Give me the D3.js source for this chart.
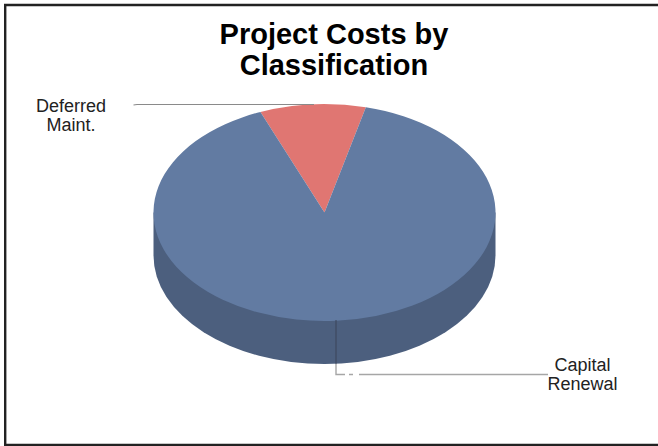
<!DOCTYPE html>
<html>
<head>
<meta charset="utf-8">
<script src="https://cdnjs.cloudflare.com/ajax/libs/d3/7.8.5/d3.min.js"></script>
<style>
html,body{margin:0;padding:0;background:#fff;overflow:hidden}
svg{display:block}
text{font-family:"Liberation Sans",Arial,sans-serif}
</style>
</head>
<body>
<svg id="c" width="658" height="446"></svg>
<script>
const categories = ["Deferred Maint.", "Capital Renewal"];
const values = [10, 90];
const sliceColors = ["#e07672", "#627ba2"];
const sideColor = "#4c5f7e";
const titleLines = ["Project Costs by", "Classification"];
const labelLines = [["Deferred", "Maint."], ["Capital", "Renewal"]];

const svg = d3.select("#c");
const W = 658, H = 446;
const cx = 324.5, cy = 212.5, rx = 171, ry = 108.5, depth = 43;

// chart frame (open on the right, as cropped in the reference)
svg.append("path")
  .attr("d", `M${W},5 H5.2 V445 H${W}`)
  .attr("fill", "none").attr("stroke", "#222").attr("stroke-width", 2.4);

// title
svg.append("g").selectAll("text").data(titleLines).join("text")
  .attr("x", 334).attr("y", (d, i) => 44 + i * 31)
  .attr("text-anchor", "middle")
  .attr("font-size", 29).attr("font-weight", "bold").attr("fill", "#000")
  .text(d => d);

// 3D side wall
const sx = d3.scaleLinear().domain([-1, 1]).range([cx - rx, cx + rx]);
const sy = d3.scaleLinear().domain([-1, 1]).range([cy - ry, cy + ry]);
svg.append("path")
  .attr("d", `M${sx(-1)},${sy(0)} v${depth} A${rx},${ry} 0 0 0 ${sx(1)},${sy(0)+depth} V${sy(0)} Z`)
  .attr("fill", sideColor);

// top face
const startDeg = -22;
const pie = d3.pie().sort(null).value(d => d)
  .startAngle(startDeg * Math.PI / 180)
  .endAngle((startDeg + 360) * Math.PI / 180);
const arc = d3.arc().innerRadius(0).outerRadius(rx);
svg.append("g")
  .attr("transform", `translate(${cx},${cy}) scale(1,${ry / rx})`)
  .selectAll("path").data(pie(values)).join("path")
  .attr("d", arc)
  .attr("fill", (d, i) => sliceColors[i]);

// leader lines
svg.append("path")
  .attr("d", "M133.5,105 L137,104.5 H314")
  .attr("fill", "none").attr("stroke", "#8a8a8a").attr("stroke-width", 1.2);
svg.append("path")
  .attr("d", "M336,320 V364")
  .attr("fill", "none").attr("stroke", "#3a4558").attr("stroke-width", 1);
svg.append("path")
  .attr("d", "M336,364 V374.5 H345 M349,374.5 H353 M359,374.5 H548")
  .attr("fill", "none").attr("stroke", "#a6a6a6").attr("stroke-width", 1.4);

// labels
const labelPos = [{x: 71, y: 112}, {x: 582.5, y: 371}];
labelLines.forEach((lines, k) => {
  svg.append("g").selectAll("text").data(lines).join("text")
    .attr("x", labelPos[k].x)
    .attr("y", (d, i) => labelPos[k].y + i * 19)
    .attr("text-anchor", "middle")
    .attr("font-size", 18).attr("fill", "#222")
    .text(d => d);
});
</script>
</body>
</html>
